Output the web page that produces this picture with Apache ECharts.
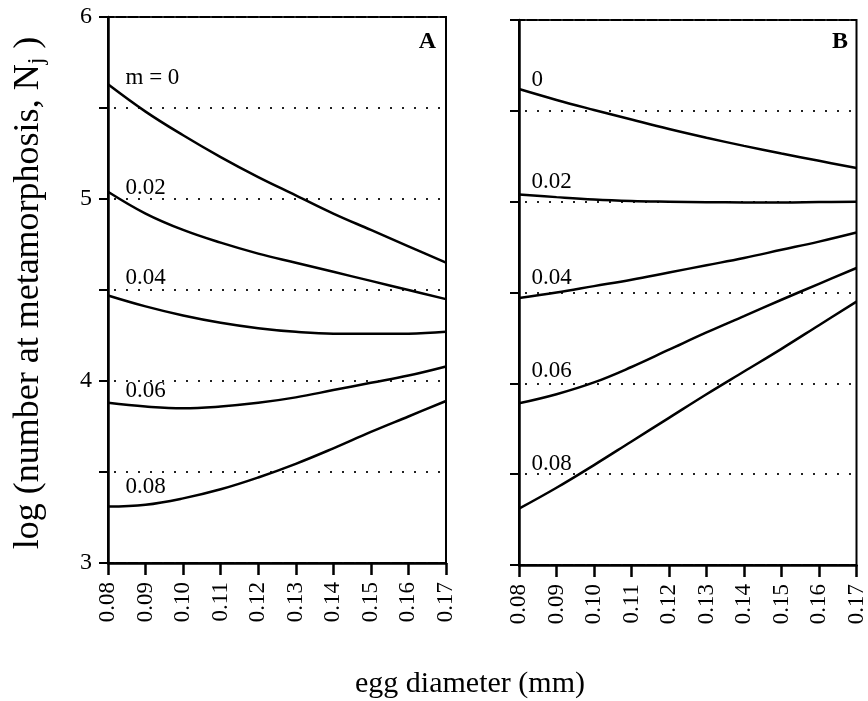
<!DOCTYPE html>
<html>
<head>
<meta charset="utf-8">
<script src="https://cdn.jsdelivr.net/npm/echarts@6/dist/echarts.min.js"></script>
<style>
  html, body { margin: 0; padding: 0; background: #fff; }
  #chart { width: 868px; height: 701px; }
</style>
</head>
<body>
<div id="chart"></div>
<script>
// ---------------- DATA ----------------
const eggDiameter = [0.08, 0.09, 0.10, 0.11, 0.12, 0.13, 0.14, 0.15, 0.16, 0.17];
const xTickLabels = ['0.08', '0.09', '0.10', '0.11', '0.12', '0.13', '0.14', '0.15', '0.16', '0.17'];
const yTickLabels = ['3', '4', '5', '6'];

const curveNamesA = ['m = 0', '0.02', '0.04', '0.06', '0.08'];
const curveNamesB = ['0', '0.02', '0.04', '0.06', '0.08'];

// Panel A
const panelA_m000 = [5.63, 5.48, 5.35, 5.23, 5.12, 5.02, 4.92, 4.83, 4.74, 4.65];
const panelA_m002 = [5.04, 4.92, 4.83, 4.76, 4.70, 4.65, 4.60, 4.55, 4.50, 4.45];
const panelA_m004 = [4.47, 4.41, 4.36, 4.32, 4.29, 4.27, 4.26, 4.26, 4.26, 4.27];
const panelA_m006 = [3.88, 3.86, 3.85, 3.86, 3.88, 3.91, 3.95, 3.99, 4.03, 4.08];
const panelA_m008 = [3.31, 3.32, 3.355, 3.405, 3.47, 3.545, 3.63, 3.72, 3.805, 3.89];

// Panel B
const panelB_m000 = [5.62, 5.56, 5.505, 5.452, 5.40, 5.352, 5.307, 5.265, 5.225, 5.185];
const panelB_m002 = [5.04, 5.025, 5.012, 5.004, 5.0, 4.997, 4.996, 4.996, 4.998, 5.0];
const panelB_m004 = [4.47, 4.50, 4.535, 4.57, 4.61, 4.65, 4.69, 4.735, 4.78, 4.83];
const panelB_m006 = [3.89, 3.94, 4.005, 4.09, 4.185, 4.28, 4.37, 4.46, 4.548, 4.635];
const panelB_m008 = [3.31, 3.425, 3.55, 3.68, 3.81, 3.94, 4.065, 4.19, 4.32, 4.45];

// ---------------- LAYOUT (label placement, not data) ----------------
const labelOffsetA = [[18, 6], [18, 8], [18, -6], [18, 0], [18, -8]];
const labelOffsetB = [[13, 3], [13, 0], [13, -8], [13, -20], [13, -33]];

const FONT = '"Liberation Serif", "Times New Roman", serif';

function makeSeries(arrs, names, offsets, axisIndex) {
  return arrs.map((ys, si) => ({
    type: 'line',
    xAxisIndex: axisIndex,
    yAxisIndex: axisIndex,
    smooth: 0.4,
    symbol: 'circle',
    symbolSize: 1,
    showSymbol: true,
    itemStyle: { color: '#000' },
    lineStyle: { color: '#000', width: 2.5 },
    emphasis: { disabled: true },
    silent: true,
    data: ys.map((y, i) => {
      const item = { value: [eggDiameter[i], y] };
      if (i === 0) {
        item.label = {
          show: true,
          formatter: names[si],
          position: offsets[si],
          align: 'left',
          verticalAlign: 'bottom',
          color: '#000',
          fontFamily: FONT,
          fontSize: 23
        };
      }
      return item;
    })
  }));
}

function xAxisCfg(gridIndex) {
  return {
    type: 'value', gridIndex, min: 0.08, max: 0.17, interval: 0.01,
    axisLine: { show: true, lineStyle: { color: '#000', width: 2.5 } },
    axisTick: { show: true, length: 12, lineStyle: { color: '#000', width: 2.5 } },
    axisLabel: {
      rotate: 90, margin: 19, color: '#000', fontFamily: FONT, fontSize: 23,
      formatter: v => xTickLabels.find(l => Math.abs(parseFloat(l) - v) < 1e-6) || ''
    },
    splitLine: { show: false }
  };
}

function yAxisCfg(gridIndex, showLabels) {
  return {
    type: 'value', gridIndex, min: 3, max: 6, interval: 0.5,
    axisLine: { show: true, lineStyle: { color: '#000', width: 2.5 } },
    axisTick: { show: true, length: 9, lineStyle: { color: '#000', width: 2 } },
    axisLabel: {
      show: showLabels, margin: 16, color: '#000', fontFamily: FONT, fontSize: 24,
      formatter: v => yTickLabels.includes(String(v)) ? String(v) : ''
    },
    splitLine: { show: true, lineStyle: { color: '#222', width: 2, type: [2, 10], dashOffset: -6 } }
  };
}

const chart = echarts.init(document.getElementById('chart'), null, { renderer: 'canvas' });
chart.setOption({
  animation: false,
  backgroundColor: '#fff',
  grid: [
    { left: 108, top: 17, width: 338, height: 546, show: true, borderColor: '#000', borderWidth: 2, backgroundColor: 'transparent' },
    { left: 519, top: 20, width: 340, height: 545, show: true, borderColor: '#000', borderWidth: 2, backgroundColor: 'transparent' }
  ],
  xAxis: [xAxisCfg(0), xAxisCfg(1)],
  yAxis: [yAxisCfg(0, true), yAxisCfg(1, false)],
  series: [
    ...makeSeries([panelA_m000, panelA_m002, panelA_m004, panelA_m006, panelA_m008], curveNamesA, labelOffsetA, 0),
    ...makeSeries([panelB_m000, panelB_m002, panelB_m004, panelB_m006, panelB_m008], curveNamesB, labelOffsetB, 1)
  ],
  graphic: [
    { type: 'text', right: 868 - 436, top: 30, style: { text: 'A', font: 'bold 24px ' + FONT, fill: '#000' } },
    { type: 'text', right: 868 - 848, top: 30, style: { text: 'B', font: 'bold 24px ' + FONT, fill: '#000' } },
    {
      type: 'text', x: 470, y: 684,
      style: { text: 'egg diameter (mm)', font: '30px ' + FONT, fill: '#000', textAlign: 'center', textVerticalAlign: 'middle' }
    },
    {
      type: 'text', x: 29, y: 293, rotation: Math.PI / 2,
      style: {
        text: '{a|log (number at metamorphosis, N}{b|j}{a| )}',
        textAlign: 'center', textVerticalAlign: 'middle', fill: '#000',
        rich: {
          a: { fontFamily: FONT, fontSize: 36, color: '#000' },
          b: { fontFamily: FONT, fontSize: 24, color: '#000', padding: [16, 0, 0, 0] }
        }
      }
    }
  ]
});
</script>
</body>
</html>
